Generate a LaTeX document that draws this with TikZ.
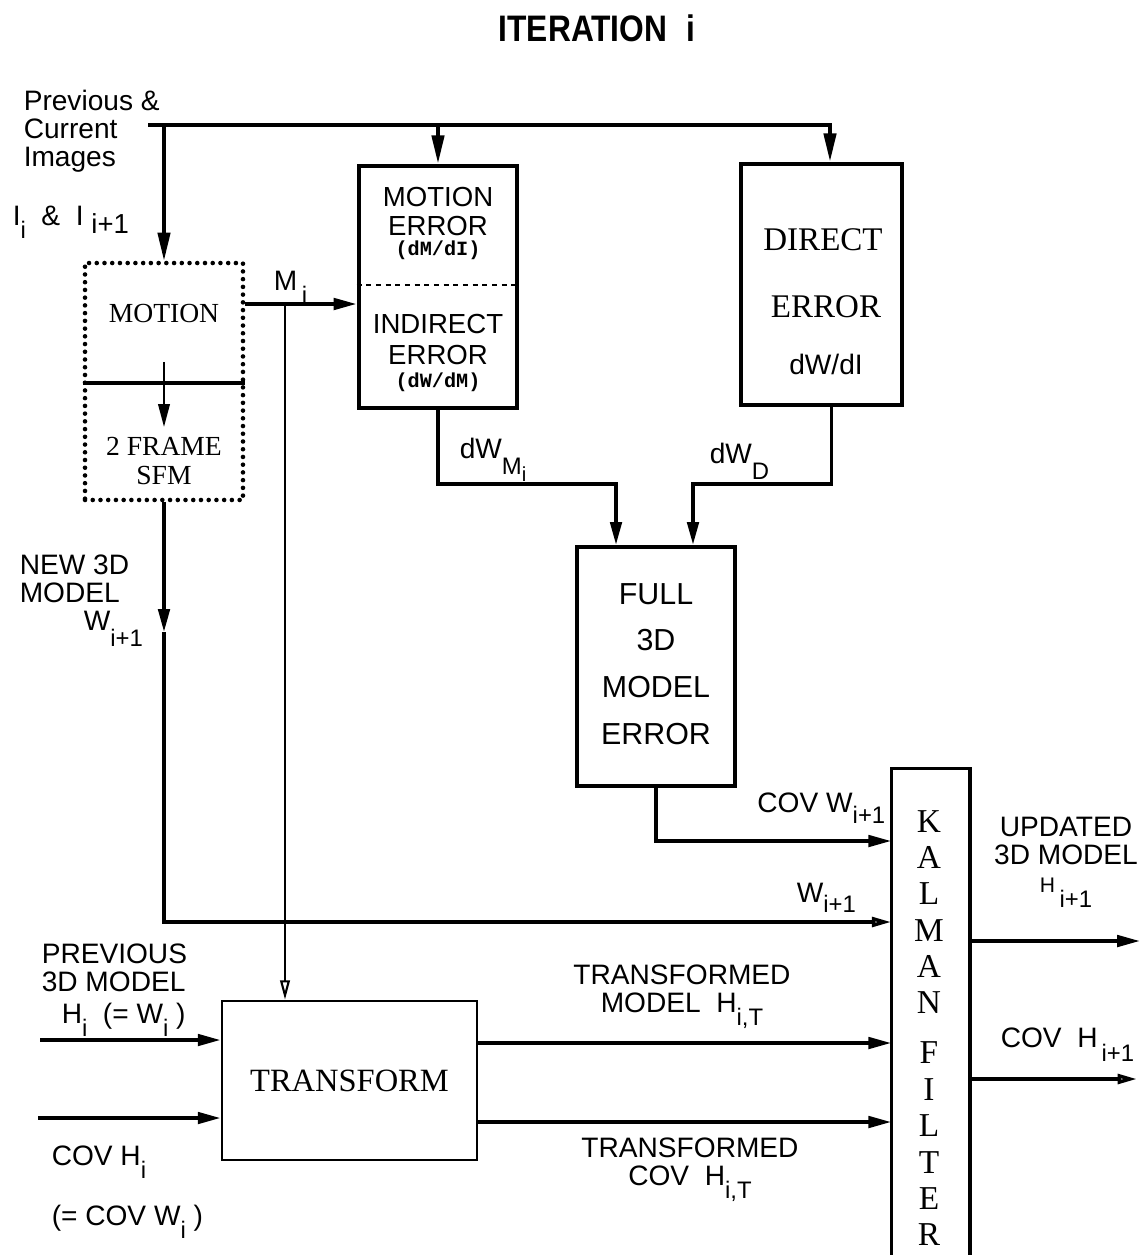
\documentclass[tikz,border=0pt]{standalone}
\usepackage{graphicx}
\usepackage{fontspec}
\setmainfont{Liberation Serif}
\setsansfont{Liberation Sans}
\setmonofont{Liberation Mono}
\usetikzlibrary{arrows.meta}

\newcommand{\lowr}[2][0.9ex]{\raisebox{-#1}{\scalebox{0.85}{#2}}}

\begin{document}
\begin{tikzpicture}[x=0.02cm,y=-0.02cm,line width=2pt,
  tip/.style={-{Triangle[length=13pt,width=6.5pt]}},
  longtip/.style={-{Triangle[length=16pt,width=7pt]}},
  opentip/.style={-{Triangle[open,length=11pt,width=5.5pt]}},
  lbl/.style={font=\sffamily\fontsize{16}{15.9}\selectfont,inner sep=0pt,align=left},
  boxsans/.style={font=\sffamily\fontsize{15.7}{16}\selectfont,inner sep=0pt},
  boxmono/.style={font=\ttfamily\bfseries\fontsize{11.5}{12}\selectfont,inner sep=0pt},
  boxserif/.style={font=\rmfamily\fontsize{15.7}{16}\selectfont,inner sep=0pt,align=center},
  thickbox/.style={draw,line width=2.8pt,inner sep=0pt}]
  \useasboundingbox (0,0) rectangle (1144,1255);

  \node[font=\sffamily\bfseries\fontsize{21}{21}\selectfont] (title) at (597,28)
    {\scalebox{0.86}[1]{ITERATION\hspace{0.6em}i}};

  % inputs, top left
  \node[lbl,anchor=north west] (imgs) at (22,88) {Previous \&\\Current\\Images};
  \node[lbl,anchor=base west] (imgi) at (11,225)
    {I\lowr{i}\ \ \&\ \ I\ \lowr[0.6ex]{\scalebox{1.15}{i+1}}};
  \coordinate (src) at (148,125);

  % motion / 2 frame sfm
  \node[draw,line width=2.6pt,dash pattern=on 0pt off 4.4pt,line cap=round,
    minimum width=3.16cm,minimum height=4.74cm] (mbox) at (164,381.5) {};
  \coordinate (div) at (0,383);
  \draw[line width=1.8pt] (mbox.west |- div) -- (mbox.east |- div);
  \node[boxserif] (motion) at (164,313) {MOTION};
  \node[boxserif] (sfm) at (164,461) {2 FRAME\\SFM};
  \draw[tip,line width=1.3pt] ([yshift=-0.98cm]motion.center) -- ([yshift=0.68cm]sfm.center);

  % motion error / indirect error
  \node[thickbox,minimum width=3.16cm,minimum height=4.84cm] (merr) at (438,287) {};
  \coordinate (mdiv) at (0,285);
  \draw[line width=1.4pt,dash pattern=on 3pt off 2.5pt] (merr.west |- mdiv) -- (merr.east |- mdiv);
  \node[boxsans] (merr1) at (438,197) {MOTION};
  \node[boxsans] (merr2) at (438,226) {ERROR};
  \node[boxmono] (merr3) at (438,250) {(dM/dI)};
  \node[boxsans] (ind1) at (438,324) {INDIRECT};
  \node[boxsans] (ind2) at (438,355) {ERROR};
  \node[boxmono] (ind3) at (438,382) {(dW/dM)};

  % direct error
  \node[thickbox,minimum width=3.22cm,minimum height=4.82cm] (derr) at (821.5,284.5) {};
  \node[boxserif,font=\rmfamily\fontsize{18.8}{19}\selectfont] (der1) at (823,240) {DIRECT};
  \node[boxserif,font=\rmfamily\fontsize{18.8}{19}\selectfont] (der2) at (826,307) {ERROR};
  \node[boxsans,font=\sffamily\fontsize{16}{16}\selectfont] (der3) at (826,364) {dW/dI};

  \coordinate (din) at ([xshift=0.17cm]derr.north);
  \draw[longtip] (src) -| (din);
  \draw[longtip] (src -| merr.north) -- (merr.north);
  \draw[longtip] (src -| mbox.north) -- (mbox.north);

  % motion parameters
  \coordinate (mline) at (0,304);
  \draw[tip] (mbox.east |- mline) -- (merr.west |- mline);
  \node[lbl,anchor=base west] (mlbl) at (272,290) {M\,\lowr{i}};

  % full 3d model error
  \node[draw,line width=2.4pt,minimum width=3.16cm,minimum height=4.78cm] (full) at (656,666.5) {};
  \node[boxsans,font=\sffamily\fontsize{17.3}{26.6}\selectfont,align=center] (fulltxt) at (656,664)
    {FULL\\3D\\MODEL\\ERROR};

  \coordinate (jm) at (0,484);
  \coordinate (fullL) at ([xshift=-0.8cm]full.north);
  \coordinate (fullR) at ([xshift=0.74cm]full.north);
  \coordinate (dout) at ([xshift=0.2cm]derr.south);
  \draw[tip] (merr.south) -- (merr.south |- jm) -| (fullL);
  \draw[tip] (dout) -- (dout |- jm) -| (fullR);
  \node[lbl,anchor=base west] (dwmlbl) at (458,458) {dW\lowr[1.1ex]{M\lowr[0.6ex]{i}}};
  \node[lbl,anchor=base west] (dwdlbl) at (708,463) {dW\lowr[1.1ex]{D}};

  % kalman filter
  \node[minimum width=1.5cm,minimum height=9.72cm,inner sep=0pt] (kal) at (930.5,1013) {};
  \draw (kal.south west) |- (kal.north east) -- (kal.south east);
  \node[boxserif,font=\rmfamily\fontsize{19}{20.7}\selectfont] (kaltxt) at (929,1028)
    {K\\A\\L\\M\\A\\N\\[7.7pt]F\\I\\L\\T\\E\\R};

  \coordinate (covw) at (0,841);
  \draw[tip] (full.south) |- (kal.west |- covw);
  \node[lbl,anchor=base east] (covwlbl) at (887,812) {COV W\lowr[0.8ex]{i+1}};

  % new model
  \coordinate (wmid) at (164,632);
  \coordinate (wline) at (0,922);
  \draw[tip] (mbox.south) -- (wmid);
  \draw[opentip] (wmid) |- (kal.west |- wline);
  \node[lbl,anchor=north west] (newlbl) at (18,553) {NEW 3D\\MODEL};
  \node[lbl,anchor=base west] (newW) at (82,630) {W\lowr[1.1ex]{i+1}};
  \node[lbl,anchor=base west] (wlbl) at (795,902) {W\lowr[0.7ex]{i+1}};

  % outputs
  \coordinate (hout) at (1140,941);
  \coordinate (cout) at (1137,1079);
  \draw[tip] (kal.east |- hout) -- (hout);
  \draw[opentip] (kal.east |- cout) -- (cout);
  \node[lbl,align=center] (updlbl) at (1066,862)
    {UPDATED\\3D MODEL\\{\fontsize{12}{12}\selectfont H}\,\lowr[1ex]{i+1}};
  \node[lbl,anchor=base west] (covhlbl) at (999,1047) {COV\ \ H\lowr[1ex]{\,i+1}};

  % transform
  \node[draw,line width=1.6pt,minimum width=5.1cm,minimum height=3.18cm,
    font=\rmfamily\fontsize{18.5}{19}\selectfont] (trans) at (349.5,1080.5) {\raisebox{-4pt}{TRANSFORM}};
  \coordinate (mbr) at (285,304);
  \draw[line width=1.2pt,opentip] (mbr) -- (mbr |- trans.north);

  \coordinate (hin) at (40,1040);
  \coordinate (cin) at (38,1118);
  \draw[tip] (hin) -- (trans.west |- hin);
  \draw[tip] (cin) -- (trans.west |- cin);
  \node[lbl,anchor=north west] (prevlbl) at (40,942) {PREVIOUS\\3D MODEL};
  \node[lbl,anchor=base west] (hilbl) at (60,1023) {H\lowr{i}\ \ (= W\lowr{i} )};
  \node[lbl,anchor=base west] (covhi) at (50,1165) {COV H\lowr{i}};
  \node[lbl,anchor=base west] (covwi) at (50,1225) {(= COV W\lowr{i} )};

  \coordinate (tmo) at (0,1043);
  \coordinate (tco) at (0,1122);
  \draw[tip] (trans.east |- tmo) -- (kal.west |- tmo);
  \draw[tip] (trans.east |- tco) -- (kal.west |- tco);
  \node[lbl,align=center] (tmlbl) at (682,997) {TRANSFORMED\\MODEL\ \ H\lowr{i,T}};
  \node[lbl,align=center] (tclbl) at (690,1170) {TRANSFORMED\\COV\ \ H\lowr{i,T}};
\end{tikzpicture}
\end{document}
